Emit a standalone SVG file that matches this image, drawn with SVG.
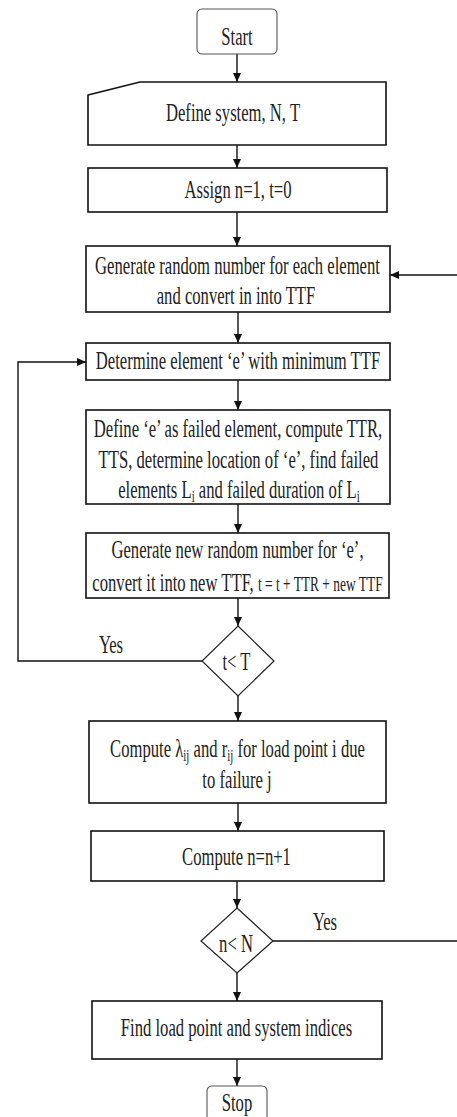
<svg xmlns="http://www.w3.org/2000/svg" width="457" height="1117" viewBox="0 0 457 1117">
<defs>
<style>
.box{fill:#fff;stroke:#111;stroke-width:1.6}
.term{fill:#fff;stroke:#555;stroke-width:1.1}
.dia{fill:#fff;stroke:#222;stroke-width:1.2}
.ln{fill:none;stroke:#111;stroke-width:1.4}
.t{font-family:"Liberation Serif","Times New Roman",serif;font-size:26px;fill:#222;text-anchor:middle}
.s{font-size:17px}
.m{font-size:21px}
</style>
<marker id="ah" markerUnits="userSpaceOnUse" markerWidth="10" markerHeight="8" refX="9" refY="4" orient="auto">
<path d="M0,0 L9,4 L0,8 Z" fill="#111"/>
</marker>
</defs>
<rect width="457" height="1117" fill="#fff"/>

<g id="connectors">
<line class="ln" x1="237" y1="54" x2="237" y2="82" marker-end="url(#ah)"/>
<line class="ln" x1="237" y1="145" x2="237" y2="168" marker-end="url(#ah)"/>
<line class="ln" x1="237" y1="212" x2="237" y2="246" marker-end="url(#ah)"/>
<line class="ln" x1="238" y1="312" x2="238" y2="343" marker-end="url(#ah)"/>
<line class="ln" x1="238" y1="380" x2="238" y2="410" marker-end="url(#ah)"/>
<line class="ln" x1="238" y1="504" x2="238" y2="533" marker-end="url(#ah)"/>
<line class="ln" x1="238" y1="598" x2="238" y2="626" marker-end="url(#ah)"/>
<line class="ln" x1="238" y1="696" x2="238" y2="721" marker-end="url(#ah)"/>
<line class="ln" x1="238" y1="803" x2="238" y2="831" marker-end="url(#ah)"/>
<line class="ln" x1="237" y1="881" x2="237" y2="908" marker-end="url(#ah)"/>
<line class="ln" x1="237" y1="973" x2="237" y2="1001" marker-end="url(#ah)"/>
<line class="ln" x1="237" y1="1059" x2="237" y2="1086" marker-end="url(#ah)"/>
<polyline class="ln" points="202,661 18,661 18,362 86,362" marker-end="url(#ah)"/>
<line class="ln" x1="273" y1="941" x2="457" y2="941"/>
<line class="ln" x1="457" y1="275" x2="390" y2="275" marker-end="url(#ah)"/>
<text class="t" transform="translate(111,653) scale(0.64,1)">Yes</text>
<text class="t" transform="translate(325,930) scale(0.64,1)">Yes</text>
</g>

<g id="start">
<rect class="term" x="197" y="9" width="80" height="45" rx="5"/>
<text class="t" transform="translate(237,45) scale(0.64,1)">Start</text>
</g>

<g id="define-system">
<path class="box" d="M88,95 L140,82 L386,82 L386,145 L88,145 Z"/>
<text class="t" transform="translate(233,121) scale(0.64,1)">Define system, N, T</text>
</g>

<g id="assign">
<rect class="box" x="88" y="168" width="299" height="44"/>
<text class="t" transform="translate(238,197.5) scale(0.64,1)">Assign n=1, t=0</text>
</g>

<g id="generate">
<rect class="box" x="86" y="246" width="304" height="66"/>
<text class="t" transform="translate(237.5,274) scale(0.64,1)">Generate random number for each element</text>
<text class="t" transform="translate(236,304) scale(0.64,1)">and convert in into TTF</text>
</g>

<g id="determine">
<rect class="box" x="86" y="343" width="304" height="37"/>
<text class="t" transform="translate(238,369) scale(0.64,1)">Determine element ‘e’ with minimum TTF</text>
</g>

<g id="define-e">
<rect class="box" x="86" y="410" width="304" height="94"/>
<text class="t" transform="translate(238,437) scale(0.64,1)">Define ‘e’ as failed element, compute TTR,</text>
<text class="t" transform="translate(238.5,468) scale(0.64,1)">TTS, determine location of ‘e’, find failed</text>
<text class="t" transform="translate(239,498) scale(0.64,1)">elements L<tspan class="s" dy="4">i</tspan><tspan dy="-4"> and failed duration of L</tspan><tspan class="s" dy="4">i</tspan></text>
</g>

<g id="generate-new">
<rect class="box" x="86" y="533" width="303" height="65"/>
<text class="t" transform="translate(237.5,558) scale(0.64,1)">Generate new random number for ‘e’,</text>
<text class="t" transform="translate(237.5,591) scale(0.64,1)">convert it into new TTF, <tspan class="m">t = t + TTR + new TTF</tspan></text>
</g>

<g id="decision-t">
<polygon class="dia" points="238,626 274,661 238,696 202,661"/>
<text class="t" transform="translate(236.5,670) scale(0.64,1)">t&lt; T</text>
</g>

<g id="compute-lambda">
<rect class="box" x="89" y="721" width="297" height="82"/>
<text class="t" transform="translate(237.5,757) scale(0.64,1)">Compute λ<tspan class="s" dy="4">ij</tspan><tspan dy="-4"> and r</tspan><tspan class="s" dy="4">ij</tspan><tspan dy="-4"> for load point i due</tspan></text>
<text class="t" transform="translate(237,788) scale(0.64,1)">to failure j</text>
</g>

<g id="compute-n">
<rect class="box" x="91" y="831" width="293" height="50"/>
<text class="t" transform="translate(236.5,865) scale(0.64,1)">Compute n=n+1</text>
</g>

<g id="decision-n">
<polygon class="dia" points="237,908 273,941 237,973 201,941"/>
<text class="t" transform="translate(236,952) scale(0.64,1)">n&lt; N</text>
</g>

<g id="find">
<rect class="box" x="92" y="1001" width="290" height="58"/>
<text class="t" transform="translate(236.5,1036) scale(0.64,1)">Find load point and system indices</text>
</g>

<g id="stop">
<rect class="term" x="207" y="1086" width="60" height="45" rx="5"/>
<text class="t" transform="translate(237,1111) scale(0.64,1)">Stop</text>
</g>
</svg>
